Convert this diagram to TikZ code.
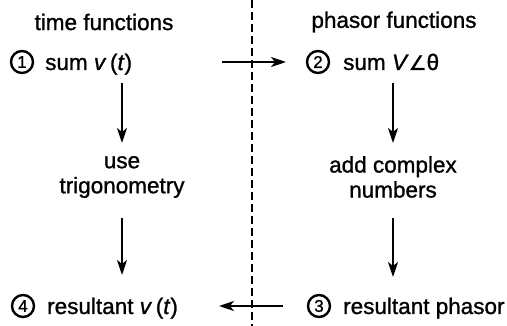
\documentclass[tikz,border=0pt]{standalone}
\usepackage{fontspec}
\setmainfont{Liberation Sans}[FakeBold=1.1]
\newfontfamily\symfont{DejaVu Sans}[FakeBold=1.1]
\usetikzlibrary{arrows.meta}
\tikzset{
  lbl/.style={font=\fontsize{22.5}{25}\selectfont, inner sep=0pt, text=black},
  mid/.style={lbl, align=center},
  num/.style={circle, draw, line width=2.4pt, minimum size=22pt, inner sep=0pt,
              font=\fontsize{17}{17}\selectfont},
  arr/.style={line width=1.7pt, -{Stealth[length=15pt,width=10pt,inset=4pt]}},
  divider/.style={line width=1.6pt, dash pattern=on 8pt off 4pt}
}
\begin{document}
\begin{tikzpicture}[x=1pt,y=-1pt]
\useasboundingbox (0,0) rectangle (507,326);

% column headings
\node[lbl] (th) at (104,22) {time functions};
\node[lbl] (ph) at (394,22) {phasor functions};

% dividing line between the two domains
\coordinate (dtop) at (252,0);
\coordinate (dbot) at (252,326);
\draw[divider] (dtop) -- (dbot);

% step 1
\node[num] (c1) at (22,62) {1};
\node[lbl, anchor=base west] (s1) at (45,70) {sum \textit{v}\,(\textit{t})};
% step 2
\node[num] (c2) at (318,62) {2};
\node[lbl, anchor=base west] (s2) at (343,70) {sum \textit{V}{\symfont\fontsize{20}{20}\selectfont∠}θ};
% step 3
\node[num] (c3) at (319,306) {3};
\node[lbl, anchor=base west] (s3) at (343,314) {resultant phasor};
% step 4
\node[num] (c4) at (23,306) {4};
\node[lbl, anchor=base west] (s4) at (47,314) {resultant \textit{v}\,(\textit{t})};

% intermediate operations
\node[mid] (m1) at (122,177) {use\\trigonometry};
\node[mid] (m2) at (393,177) {add complex\\numbers};

% arrow end points
\coordinate (a1) at (122,83);  \coordinate (a2) at (122,143);
\coordinate (a3) at (122,218); \coordinate (a4) at (122,275);
\coordinate (b1) at (393,83);  \coordinate (b2) at (393,143);
\coordinate (b3) at (393,218); \coordinate (b4) at (393,277);
\coordinate (h1) at (222,62);  \coordinate (h2) at (286,62);
\coordinate (h3) at (283,306); \coordinate (h4) at (219,306);

\draw[arr] (a1) -- (a2);
\draw[arr] (a3) -- (a4);
\draw[arr] (b1) -- (b2);
\draw[arr] (b3) -- (b4);
\draw[arr] (h1) -- (h2);
\draw[arr] (h3) -- (h4);
\end{tikzpicture}
\end{document}
